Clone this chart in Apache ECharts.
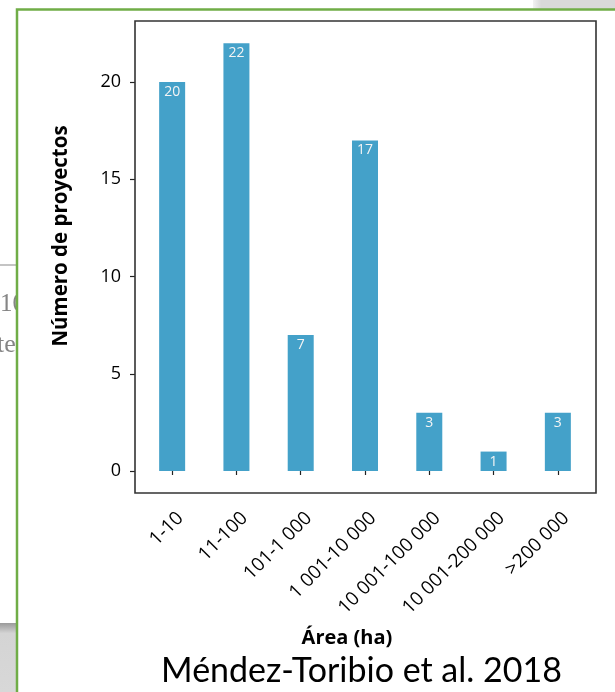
<!DOCTYPE html>
<html>
<head>
<meta charset="utf-8">
<title>Número de proyectos por área</title>
<script src="https://cdn.jsdelivr.net/npm/echarts@6/dist/echarts.min.js"></script>
<style>
  html, body { margin: 0; padding: 0; background: #ffffff; }
  #chart { width: 615px; height: 692px; }
</style>
</head>
<body>
<div id="chart"></div>
<script>
// Area classes (ha) and number of restoration projects in each
const categories = ['1-10', '11-100', '101-1 000', '1 001-10 000', '10 001-100 000', '10 001-200 000', '>200 000'];
const projectCounts = [20, 22, 7, 17, 3, 1, 3];
const yTickValues = [0, 5, 10, 15, 20];

const axisFont = 'Open Sans';
const barColor = '#44a1c9';
const frameGreen = '#70ad47';

const chart = echarts.init(document.getElementById('chart'), null, { renderer: 'canvas' });

chart.setOption({
  backgroundColor: '#ffffff',
  animation: false,
  grid: { left: 140, right: 25, top: 21, bottom: 199, containLabel: false },
  xAxis: {
    type: 'category',
    data: categories,
    axisLine: { show: false },
    axisTick: { show: true, alignWithLabel: true, length: 4, lineStyle: { color: '#222', width: 1.2 } },
    axisLabel: {
      rotate: 45, interval: 0, margin: 14,
      verticalAlign: 'top', padding: [2, 0, 0, 0],
      fontFamily: axisFont, fontSize: 19, color: '#000'
    }
  },
  yAxis: {
    type: 'value',
    min: -1.13,
    max: 23.14,
    offset: 5,
    splitLine: { show: false },
    axisLine: { show: false },
    axisTick: { show: true, length: 5, customValues: yTickValues, lineStyle: { color: '#222', width: 1.2 } },
    axisLabel: {
      customValues: yTickValues, margin: 14,
      fontFamily: axisFont, fontSize: 18, color: '#000'
    }
  },
  series: [{
    type: 'bar',
    data: projectCounts,
    barWidth: 26,
    itemStyle: { color: barColor },
    label: {
      show: true,
      position: 'insideTop',
      distance: 3,
      color: '#f4f4f4',
      fontFamily: axisFont,
      fontSize: 14
    }
  }],
  graphic: [
    // clipped text from the slide behind, on the left edge
    { type: 'line', shape: { x1: 0, y1: 265, x2: 17, y2: 265 }, style: { stroke: '#c4c4c4', lineWidth: 2 }, z: 1 },
    { type: 'text', x: 0, y: 292, style: { text: '10', font: '25px "Liberation Serif", serif', fill: '#858585' }, z: 1 },
    { type: 'text', x: -3, y: 332, style: { text: 'te', font: '26px "Liberation Serif", serif', fill: '#858585' }, z: 1 },
    { type: 'rect', shape: { x: 18, y: 270, width: 24, height: 100 }, style: { fill: '#ffffff' }, z: 2 },
    // grey panel bottom-left
    { type: 'rect', shape: { x: 0, y: 623, width: 17, height: 69 },
      style: { fill: new echarts.graphic.LinearGradient(0, 0, 0, 1, [
        { offset: 0, color: '#9a9a9a' }, { offset: 0.15, color: '#d4d4d4' }, { offset: 1, color: '#d8d8d8' }]) }, z: 1 },
    // grey panel top-right
    { type: 'rect', shape: { x: 533, y: 0, width: 82, height: 9 },
      style: { fill: new echarts.graphic.LinearGradient(0, 0, 1, 0, [
        { offset: 0, color: '#f2f2f2' }, { offset: 0.1, color: '#d9d9d9' }, { offset: 1, color: '#d9d9d9' }]) }, z: 1 },
    // green slide frame
    { type: 'polyline', shape: { points: [[17, 692], [17, 9.5], [615, 9.5]] },
      style: { stroke: frameGreen, lineWidth: 2.5, fill: null }, z: 3 },
    // plot box
    { type: 'rect', shape: { x: 135, y: 21, width: 461, height: 472 },
      style: { stroke: '#333', lineWidth: 1.6, fill: null }, z: 3 },
    // axis titles
    { type: 'text', x: 61, y: 236, rotation: Math.PI / 2,
      style: { text: 'Número de proyectos', font: 'bold 20.5px "Open Sans", sans-serif', fill: '#000',
               textAlign: 'center', textVerticalAlign: 'middle' }, z: 3 },
    { type: 'text', x: 347, y: 638,
      style: { text: 'Área (ha)', font: 'bold 20px "Open Sans", sans-serif', fill: '#000',
               textAlign: 'center', textVerticalAlign: 'middle' }, z: 3 },
    // citation
    { type: 'text', x: 361.5, y: 671,
      style: { text: 'Méndez-Toribio et al. 2018', font: '34px Lato, sans-serif', fill: '#000',
               textAlign: 'center', textVerticalAlign: 'middle' }, z: 3 }
  ]
});
</script>
</body>
</html>
